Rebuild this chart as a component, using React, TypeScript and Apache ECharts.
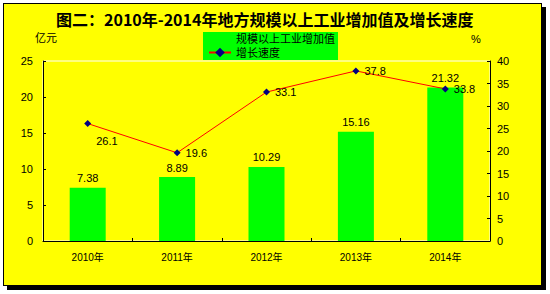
import React, { useEffect, useRef } from "react";
import * as echarts from "echarts";

const years = ["2010年", "2011年", "2012年", "2013年", "2014年"];
const addedValue = [7.38, 8.89, 10.29, 15.16, 21.32];
const growthRate = [26.1, 19.6, 33.1, 37.8, 33.8];
const titleText = "图二：2010年-2014年地方规模以上工业增加值及增长速度";
const barName = "规模以上工业增加值";
const lineName = "增长速度";
const leftUnit = "亿元";
const rightUnit = "%";

const FONT = "'Liberation Sans', Arial, 'Noto Sans CJK SC', sans-serif";

export default function App() {
  const ref = useRef<HTMLDivElement>(null);
  useEffect(() => {
    if (!ref.current) return;
    const chart = echarts.init(ref.current, null, { renderer: "svg" });
    const lineLabelOffsets: Record<number, number[]> = { 0: [0, 17] };
    chart.setOption({
      animation: false,
      backgroundColor: "transparent",
      textStyle: { fontFamily: FONT, color: "#000" },
      title: {
        text: titleText,
        left: 56,
        top: 11,
        padding: 0,
        textStyle: {
          fontFamily: "'Noto Sans CJK SC', sans-serif",
          fontSize: 16,
          fontWeight: "bold",
          color: "#000",
        },
      },
      legend: {
        orient: "vertical",
        left: 203,
        top: 32,
        backgroundColor: "#00FF00",
        padding: [1, 3, 2, 5],
        itemGap: 2,
        itemWidth: 22,
        itemHeight: 12,
        textStyle: { fontFamily: FONT, fontSize: 11, color: "#000" },
        data: [
          { name: barName, icon: "rect" },
          { name: lineName },
        ],
      },
      grid: {
        left: 43,
        right: 60,
        top: 61,
        bottom: 53,
        containLabel: false,
        show: true,
        borderColor: "#FFFFFF",
        borderWidth: 1,
        backgroundColor: "transparent",
      },
      graphic: [
        {
          type: "text",
          left: 35,
          top: 32,
          style: { text: leftUnit, fontFamily: FONT, fontSize: 11, fill: "#000" },
        },
        {
          type: "text",
          left: 471,
          top: 33,
          style: { text: rightUnit, fontFamily: FONT, fontSize: 11, fill: "#000" },
        },
      ],
      xAxis: {
        type: "category",
        data: years,
        axisLine: { show: true, lineStyle: { color: "#000", width: 1 } },
        axisTick: { show: true, inside: true, length: 3, alignWithLabel: false, lineStyle: { color: "#000" } },
        axisLabel: { fontFamily: FONT, fontSize: 10, color: "#000", margin: 11 },
        splitLine: { show: false },
      },
      yAxis: [
        {
          type: "value",
          min: 0,
          max: 25,
          interval: 5,
          position: "left",
          axisLine: { show: true, lineStyle: { color: "#000", width: 1 } },
          axisTick: { show: true, inside: true, length: 3, lineStyle: { color: "#000" } },
          axisLabel: { fontFamily: FONT, fontSize: 11, color: "#000", margin: 10 },
          splitLine: { show: false },
        },
        {
          type: "value",
          min: 0,
          max: 40,
          interval: 5,
          position: "right",
          axisLine: { show: true, lineStyle: { color: "#000", width: 1 } },
          axisTick: { show: true, inside: true, length: 3, lineStyle: { color: "#000" } },
          axisLabel: { fontFamily: FONT, fontSize: 11, color: "#000", margin: 7 },
          splitLine: { show: false },
        },
      ],
      series: [
        {
          name: barName,
          type: "bar",
          yAxisIndex: 0,
          data: addedValue,
          barWidth: 36,
          itemStyle: { color: "#00FF00" },
          label: {
            show: true,
            position: "top",
            distance: 4,
            fontFamily: FONT,
            fontSize: 11,
            color: "#000",
          },
        },
        {
          name: lineName,
          type: "line",
          yAxisIndex: 1,
          data: growthRate.map((v, i) => ({
            value: v,
            label: lineLabelOffsets[i] ? { offset: lineLabelOffsets[i] } : undefined,
          })),
          symbol: "diamond",
          symbolSize: 7,
          lineStyle: { color: "#FF0000", width: 1 },
          itemStyle: { color: "#000080" },
          label: {
            show: true,
            position: "right",
            distance: 5,
            fontFamily: FONT,
            fontSize: 11,
            color: "#000",
          },
          z: 5,
        },
      ],
    });
    return () => chart.dispose();
  }, []);

  return (
    <div style={{ position: "absolute", left: 0, top: 0, width: 550, height: 294, background: "#fff" }}>
      <div
        style={{
          position: "absolute",
          left: 3,
          top: 3,
          width: 539,
          height: 283,
          boxSizing: "border-box",
          border: "1px solid #000",
          boxShadow: "4px 4px 0 #000",
          background: "#FFFF00",
        }}
      />
      <div ref={ref} style={{ position: "absolute", left: 0, top: 0, width: 550, height: 294 }} />
    </div>
  );
}
